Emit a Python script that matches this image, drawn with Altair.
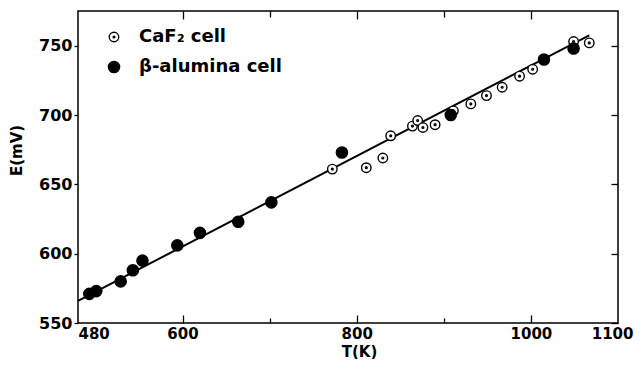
import altair as alt
import pandas as pd

# ---- data ----
series_names = ["CaF\u2082 cell", "\u03b2-alumina cell"]

caf2_T = [772, 811, 830, 839, 864, 870, 876, 890, 911, 931, 949, 967, 987, 1002, 1049, 1067]
caf2_E = [661, 662, 669, 685, 692, 696, 691, 693, 703, 708, 714, 720, 728, 733, 753, 752]

beta_T = [493, 501, 529, 543, 554, 594, 620, 664, 702, 783, 908, 1015, 1049]
beta_E = [571, 573, 580, 588, 595, 606, 615, 623, 637, 673, 700, 740, 748]

fit_T = [480, 1067]
fit_E = [566, 757.5]

x_label_values = [480, 600, 800, 1000, 1100]
x_tick_values = [600, 700, 800, 900, 1000]
y_tick_values = [550, 600, 650, 700, 750]
x_domain = [480, 1100]
y_domain = [550, 775]

# ---- tables ----
df_pts = pd.DataFrame({
    "T": caf2_T + beta_T,
    "E": caf2_E + beta_E,
    "series": [series_names[0]] * len(caf2_T) + [series_names[1]] * len(beta_T),
})
df_fit = pd.DataFrame({"T": fit_T, "E": fit_E})

W, H = 540, 312
FONT = "DejaVu Sans"

xscale = alt.Scale(domain=x_domain, nice=False, zero=False)
yscale = alt.Scale(domain=y_domain, nice=False, zero=False)

open_dot_path = ("M0.85,0A0.85,0.85,0,1,1,-0.85,0A0.85,0.85,0,1,1,0.85,0Z"
                 "M0.16,0A0.16,0.16,0,1,1,-0.16,0A0.16,0.16,0,1,1,0.16,0Z")

minor_test = "datum.value == 700 || datum.value == 900"

# main line with labelled axes
line = alt.Chart(df_fit).mark_line(color="black", strokeWidth=2).encode(
    x=alt.X("T:Q", scale=xscale, axis=alt.Axis(
        orient="bottom", values=x_label_values, format="d", ticks=False, domain=False,
        grid=False, labelFlush=True,
        labelOffset=alt.condition("datum.value == 1100", alt.value(15), alt.value(0)),
        labelFont=FONT, labelFontWeight="bold", labelFontSize=15, labelColor="black",
        labelPadding=3,
        title="T(K)", titleFont=FONT, titleFontWeight="bold", titleFontSize=15,
        titleColor="black", titleX=281, titleY=33, titleBaseline="alphabetic")),
    y=alt.Y("E:Q", scale=yscale, axis=alt.Axis(
        orient="left", values=y_tick_values, format="d", domain=False, grid=False,
        tickSize=4, tickColor="black", tickWidth=1.3,
        labelFont=FONT, labelFontWeight="bold", labelFontSize=16, labelColor="black",
        labelPadding=2, labelFlush=False,
        title="E(mV)", titleFont=FONT, titleFontWeight="bold", titleFontSize=15,
        titleColor="black", titleAngle=-90, titleX=-62, titleY=139,
        titleAlign="center", titleBaseline="middle")),
)

# invisible copy carrying the inward ticks on the top edge
top_ticks = alt.Chart(df_fit).mark_line(opacity=0).encode(
    x=alt.X("T:Q", scale=xscale, axis=alt.Axis(
        orient="bottom", offset=-H, values=x_tick_values, labels=False, domain=False,
        grid=False, title="", tickColor="black", tickWidth=1.3,
        tickSize=alt.condition(minor_test, alt.value(6), alt.value(8)))),
    y=alt.Y("E:Q", scale=yscale, axis=None),
)

points = alt.Chart(df_pts).mark_point(filled=False, strokeWidth=1.4,
                                      opacity=1, size=125).encode(
    x=alt.X("T:Q", scale=xscale, axis=alt.Axis(
        orient="top", offset=-H, values=x_tick_values, labels=False, domain=False,
        grid=False, title="", tickColor="black", tickWidth=1.3,
        tickSize=alt.condition(minor_test, alt.value(5), alt.value(8)))),
    y=alt.Y("E:Q", scale=yscale, axis=alt.Axis(
        orient="left", offset=-W, values=y_tick_values, labels=False, domain=False,
        grid=False, title="", tickColor="black", tickWidth=1.3, tickSize=7)),
    fill=alt.Fill("series:N", scale=alt.Scale(domain=series_names, range=["white", "black"]),
                  title=None),
    stroke=alt.Stroke("series:N", scale=alt.Scale(domain=series_names, range=["black", "black"]),
                      title=None),
    shape=alt.Shape("series:N", scale=alt.Scale(domain=series_names, range=[open_dot_path, "circle"]),
                    title=None),
)

chart = alt.layer(line, top_ticks, points).resolve_axis(
    x="independent", y="independent"
).properties(
    width=W, height=H,
    autosize=alt.AutoSizeParams(type="none"),
    padding={"left": 70, "top": 3, "right": 16, "bottom": 36},
).configure_view(
    stroke="black", strokeWidth=1.5
).configure_legend(
    orient="none", legendX=27, legendY=17, padding=0,
    labelFont=FONT, labelFontWeight="bold", labelFontSize=18, labelColor="black",
    labelOffset=16, rowPadding=12, symbolSize=125,
    symbolStrokeWidth=1.4,
)

chart.save("out.html", embed_options={"renderer": "svg", "actions": False})
